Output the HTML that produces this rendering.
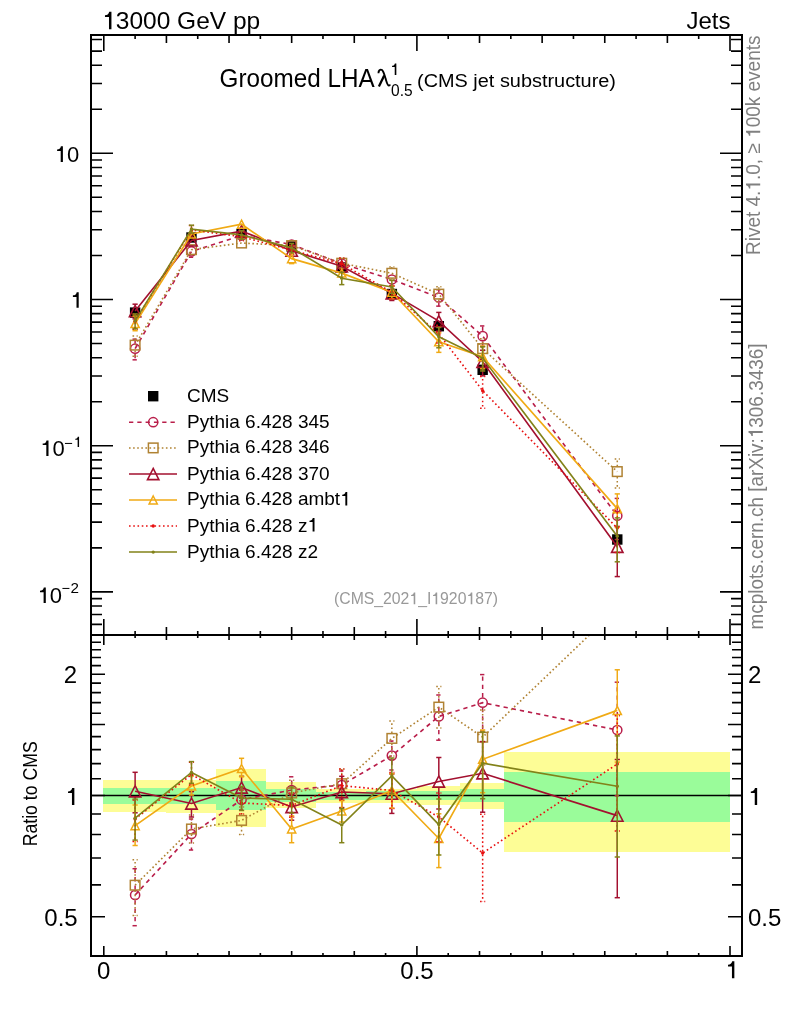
<!DOCTYPE html><html><head><meta charset="utf-8"><style>html,body{margin:0;padding:0;background:#fff;}svg{display:block;will-change:transform;}text{font-family:"Liberation Sans",sans-serif;}.h1{fill-opacity:0;}</style></head><body>
<svg width="786" height="1024" viewBox="0 0 786 1024">
<rect width="786" height="1024" fill="#fff"/>
<rect x="103" y="780" width="63" height="32" fill="#fdfd96" shape-rendering="crispEdges"/>
<rect x="103" y="788" width="63" height="16" fill="#9afc9a" shape-rendering="crispEdges"/>
<rect x="166" y="780" width="50" height="33" fill="#fdfd96" shape-rendering="crispEdges"/>
<rect x="166" y="788" width="50" height="16" fill="#9afc9a" shape-rendering="crispEdges"/>
<rect x="216" y="769" width="50" height="58" fill="#fdfd96" shape-rendering="crispEdges"/>
<rect x="216" y="781" width="50" height="29" fill="#9afc9a" shape-rendering="crispEdges"/>
<rect x="266" y="782" width="50" height="26" fill="#fdfd96" shape-rendering="crispEdges"/>
<rect x="266" y="789" width="50" height="13" fill="#9afc9a" shape-rendering="crispEdges"/>
<rect x="316" y="789" width="50" height="14" fill="#fdfd96" shape-rendering="crispEdges"/>
<rect x="316" y="792" width="50" height="8" fill="#9afc9a" shape-rendering="crispEdges"/>
<rect x="366" y="789" width="51" height="14" fill="#fdfd96" shape-rendering="crispEdges"/>
<rect x="366" y="791" width="51" height="9" fill="#9afc9a" shape-rendering="crispEdges"/>
<rect x="417" y="786" width="43" height="19" fill="#fdfd96" shape-rendering="crispEdges"/>
<rect x="417" y="791" width="43" height="9" fill="#9afc9a" shape-rendering="crispEdges"/>
<rect x="460" y="783" width="44" height="26" fill="#fdfd96" shape-rendering="crispEdges"/>
<rect x="460" y="789" width="44" height="13" fill="#9afc9a" shape-rendering="crispEdges"/>
<rect x="504" y="752" width="226" height="100" fill="#fdfd96" shape-rendering="crispEdges"/>
<rect x="504" y="772" width="226" height="50" fill="#9afc9a" shape-rendering="crispEdges"/>
<line x1="91" y1="795.5" x2="742" y2="795.5" stroke="#000" stroke-width="1.5"/>
<defs><clipPath id="cu"><rect x="91" y="35" width="651" height="600"/></clipPath><clipPath id="cl"><rect x="91" y="635" width="651" height="321"/></clipPath></defs>
<g clip-path="url(#cu)">
<rect x="129.91" y="307.4" width="10.4" height="10.4" fill="#000"/>
<rect x="186.27" y="232.3" width="10.4" height="10.4" fill="#000"/>
<rect x="236.36" y="228.8" width="10.4" height="10.4" fill="#000"/>
<rect x="286.46" y="241.3" width="10.4" height="10.4" fill="#000"/>
<rect x="336.56" y="262.3" width="10.4" height="10.4" fill="#000"/>
<rect x="386.65" y="288.8" width="10.4" height="10.4" fill="#000"/>
<rect x="433.62" y="321" width="10.4" height="10.4" fill="#000"/>
<rect x="477.45" y="364.6" width="10.4" height="10.4" fill="#000"/>
<rect x="612.08" y="534.3" width="10.4" height="10.4" fill="#000"/>
<polyline points="135.11,348.7 191.47,251.47 241.56,235.56 291.66,244.5 341.76,263.69 391.85,279.53 438.82,297.5 482.65,336.13 617.28,515.74" fill="none" stroke="#b91e4a" stroke-width="1.65" stroke-dasharray="4.3,4"/>
<line x1="135.11" y1="343.4" x2="135.11" y2="339.16" stroke="#b91e4a" stroke-width="1.5" stroke-dasharray="4.3,4"/><line x1="132.51" y1="339.16" x2="137.71" y2="339.16" stroke="#b91e4a" stroke-width="1.5" stroke-dasharray="4.3,4"/><line x1="135.11" y1="354" x2="135.11" y2="359.83" stroke="#b91e4a" stroke-width="1.5" stroke-dasharray="4.3,4"/><line x1="132.51" y1="359.83" x2="137.71" y2="359.83" stroke="#b91e4a" stroke-width="1.5" stroke-dasharray="4.3,4"/>
<line x1="191.47" y1="246.17" x2="191.47" y2="246.03" stroke="#b91e4a" stroke-width="1.5" stroke-dasharray="4.3,4"/><line x1="188.87" y1="246.03" x2="194.07" y2="246.03" stroke="#b91e4a" stroke-width="1.5" stroke-dasharray="4.3,4"/><line x1="191.47" y1="256.77" x2="191.47" y2="257.27" stroke="#b91e4a" stroke-width="1.5" stroke-dasharray="4.3,4"/><line x1="188.87" y1="257.27" x2="194.07" y2="257.27" stroke="#b91e4a" stroke-width="1.5" stroke-dasharray="4.3,4"/>




<line x1="438.82" y1="292.2" x2="438.82" y2="289.74" stroke="#b91e4a" stroke-width="1.5" stroke-dasharray="4.3,4"/><line x1="436.22" y1="289.74" x2="441.42" y2="289.74" stroke="#b91e4a" stroke-width="1.5" stroke-dasharray="4.3,4"/><line x1="438.82" y1="302.8" x2="438.82" y2="306.14" stroke="#b91e4a" stroke-width="1.5" stroke-dasharray="4.3,4"/><line x1="436.22" y1="306.14" x2="441.42" y2="306.14" stroke="#b91e4a" stroke-width="1.5" stroke-dasharray="4.3,4"/>
<line x1="482.65" y1="330.83" x2="482.65" y2="325.94" stroke="#b91e4a" stroke-width="1.5" stroke-dasharray="4.3,4"/><line x1="480.05" y1="325.94" x2="485.25" y2="325.94" stroke="#b91e4a" stroke-width="1.5" stroke-dasharray="4.3,4"/><line x1="482.65" y1="341.43" x2="482.65" y2="346.4" stroke="#b91e4a" stroke-width="1.5" stroke-dasharray="4.3,4"/><line x1="480.05" y1="346.4" x2="485.25" y2="346.4" stroke="#b91e4a" stroke-width="1.5" stroke-dasharray="4.3,4"/>
<line x1="617.28" y1="510.44" x2="617.28" y2="498.4" stroke="#b91e4a" stroke-width="1.5" stroke-dasharray="4.3,4"/><line x1="614.68" y1="498.4" x2="619.88" y2="498.4" stroke="#b91e4a" stroke-width="1.5" stroke-dasharray="4.3,4"/><line x1="617.28" y1="521.04" x2="617.28" y2="539.57" stroke="#b91e4a" stroke-width="1.5" stroke-dasharray="4.3,4"/><line x1="614.68" y1="539.57" x2="619.88" y2="539.57" stroke="#b91e4a" stroke-width="1.5" stroke-dasharray="4.3,4"/>
<circle cx="135.11" cy="348.7" r="4.6" fill="none" stroke="#b91e4a" stroke-width="1.5"/>
<circle cx="191.47" cy="251.47" r="4.6" fill="none" stroke="#b91e4a" stroke-width="1.5"/>
<circle cx="241.56" cy="235.56" r="4.6" fill="none" stroke="#b91e4a" stroke-width="1.5"/>
<circle cx="291.66" cy="244.5" r="4.6" fill="none" stroke="#b91e4a" stroke-width="1.5"/>
<circle cx="341.76" cy="263.69" r="4.6" fill="none" stroke="#b91e4a" stroke-width="1.5"/>
<circle cx="391.85" cy="279.53" r="4.6" fill="none" stroke="#b91e4a" stroke-width="1.5"/>
<circle cx="438.82" cy="297.5" r="4.6" fill="none" stroke="#b91e4a" stroke-width="1.5"/>
<circle cx="482.65" cy="336.13" r="4.6" fill="none" stroke="#b91e4a" stroke-width="1.5"/>
<circle cx="617.28" cy="515.74" r="4.6" fill="none" stroke="#b91e4a" stroke-width="1.5"/>
<polyline points="135.11,345.14 191.47,249.65 241.56,243.03 291.66,245.59 341.76,263.22 391.85,273.29 438.82,294.13 482.65,348.65 617.28,471.6" fill="none" stroke="#b08232" stroke-width="1.65" stroke-dasharray="1.6,2.5"/>
<line x1="135.11" y1="339.84" x2="135.11" y2="335.89" stroke="#b08232" stroke-width="1.5" stroke-dasharray="1.6,2.5"/><line x1="132.51" y1="335.89" x2="137.71" y2="335.89" stroke="#b08232" stroke-width="1.5" stroke-dasharray="1.6,2.5"/><line x1="135.11" y1="350.44" x2="135.11" y2="356.13" stroke="#b08232" stroke-width="1.5" stroke-dasharray="1.6,2.5"/><line x1="132.51" y1="356.13" x2="137.71" y2="356.13" stroke="#b08232" stroke-width="1.5" stroke-dasharray="1.6,2.5"/>



<line x1="341.76" y1="257.92" x2="341.76" y2="257.89" stroke="#b08232" stroke-width="1.5" stroke-dasharray="1.6,2.5"/><line x1="339.16" y1="257.89" x2="344.36" y2="257.89" stroke="#b08232" stroke-width="1.5" stroke-dasharray="1.6,2.5"/>
<line x1="391.85" y1="267.99" x2="391.85" y2="266.97" stroke="#b08232" stroke-width="1.5" stroke-dasharray="1.6,2.5"/><line x1="389.25" y1="266.97" x2="394.45" y2="266.97" stroke="#b08232" stroke-width="1.5" stroke-dasharray="1.6,2.5"/><line x1="391.85" y1="278.59" x2="391.85" y2="279.67" stroke="#b08232" stroke-width="1.5" stroke-dasharray="1.6,2.5"/><line x1="389.25" y1="279.67" x2="394.45" y2="279.67" stroke="#b08232" stroke-width="1.5" stroke-dasharray="1.6,2.5"/>
<line x1="438.82" y1="288.83" x2="438.82" y2="286.69" stroke="#b08232" stroke-width="1.5" stroke-dasharray="1.6,2.5"/><line x1="436.22" y1="286.69" x2="441.42" y2="286.69" stroke="#b08232" stroke-width="1.5" stroke-dasharray="1.6,2.5"/><line x1="438.82" y1="299.43" x2="438.82" y2="301.71" stroke="#b08232" stroke-width="1.5" stroke-dasharray="1.6,2.5"/><line x1="436.22" y1="301.71" x2="441.42" y2="301.71" stroke="#b08232" stroke-width="1.5" stroke-dasharray="1.6,2.5"/>
<line x1="482.65" y1="343.35" x2="482.65" y2="338.78" stroke="#b08232" stroke-width="1.5" stroke-dasharray="1.6,2.5"/><line x1="480.05" y1="338.78" x2="485.25" y2="338.78" stroke="#b08232" stroke-width="1.5" stroke-dasharray="1.6,2.5"/><line x1="482.65" y1="353.95" x2="482.65" y2="358.74" stroke="#b08232" stroke-width="1.5" stroke-dasharray="1.6,2.5"/><line x1="480.05" y1="358.74" x2="485.25" y2="358.74" stroke="#b08232" stroke-width="1.5" stroke-dasharray="1.6,2.5"/>
<line x1="617.28" y1="466.3" x2="617.28" y2="458.9" stroke="#b08232" stroke-width="1.5" stroke-dasharray="1.6,2.5"/><line x1="614.68" y1="458.9" x2="619.88" y2="458.9" stroke="#b08232" stroke-width="1.5" stroke-dasharray="1.6,2.5"/><line x1="617.28" y1="476.9" x2="617.28" y2="488.1" stroke="#b08232" stroke-width="1.5" stroke-dasharray="1.6,2.5"/><line x1="614.68" y1="488.1" x2="619.88" y2="488.1" stroke="#b08232" stroke-width="1.5" stroke-dasharray="1.6,2.5"/>
<rect x="130.31" y="340.34" width="9.6" height="9.6" fill="none" stroke="#b08232" stroke-width="1.5"/>
<rect x="186.67" y="244.85" width="9.6" height="9.6" fill="none" stroke="#b08232" stroke-width="1.5"/>
<rect x="236.76" y="238.23" width="9.6" height="9.6" fill="none" stroke="#b08232" stroke-width="1.5"/>
<rect x="286.86" y="240.79" width="9.6" height="9.6" fill="none" stroke="#b08232" stroke-width="1.5"/>
<rect x="336.96" y="258.42" width="9.6" height="9.6" fill="none" stroke="#b08232" stroke-width="1.5"/>
<rect x="387.05" y="268.49" width="9.6" height="9.6" fill="none" stroke="#b08232" stroke-width="1.5"/>
<rect x="434.02" y="289.33" width="9.6" height="9.6" fill="none" stroke="#b08232" stroke-width="1.5"/>
<rect x="477.85" y="343.85" width="9.6" height="9.6" fill="none" stroke="#b08232" stroke-width="1.5"/>
<rect x="612.48" y="466.8" width="9.6" height="9.6" fill="none" stroke="#b08232" stroke-width="1.5"/>
<polyline points="135.11,311.08 191.47,240.4 241.56,231.1 291.66,250.67 341.76,266.23 391.85,293.35 438.82,321.12 482.65,361.75 617.28,546.79" fill="none" stroke="#a3102f" stroke-width="1.65"/>
<line x1="135.11" y1="305.28" x2="135.11" y2="304.18" stroke="#a3102f" stroke-width="1.5"/><line x1="132.51" y1="304.18" x2="137.71" y2="304.18" stroke="#a3102f" stroke-width="1.5"/><line x1="135.11" y1="316.88" x2="135.11" y2="318.88" stroke="#a3102f" stroke-width="1.5"/><line x1="132.51" y1="318.88" x2="137.71" y2="318.88" stroke="#a3102f" stroke-width="1.5"/>




<line x1="391.85" y1="287.55" x2="391.85" y2="286.2" stroke="#a3102f" stroke-width="1.5"/><line x1="389.25" y1="286.2" x2="394.45" y2="286.2" stroke="#a3102f" stroke-width="1.5"/><line x1="391.85" y1="299.15" x2="391.85" y2="300.49" stroke="#a3102f" stroke-width="1.5"/><line x1="389.25" y1="300.49" x2="394.45" y2="300.49" stroke="#a3102f" stroke-width="1.5"/>
<line x1="438.82" y1="315.32" x2="438.82" y2="312.41" stroke="#a3102f" stroke-width="1.5"/><line x1="436.22" y1="312.41" x2="441.42" y2="312.41" stroke="#a3102f" stroke-width="1.5"/><line x1="438.82" y1="326.92" x2="438.82" y2="331.1" stroke="#a3102f" stroke-width="1.5"/><line x1="436.22" y1="331.1" x2="441.42" y2="331.1" stroke="#a3102f" stroke-width="1.5"/>
<line x1="482.65" y1="355.95" x2="482.65" y2="350.25" stroke="#a3102f" stroke-width="1.5"/><line x1="480.05" y1="350.25" x2="485.25" y2="350.25" stroke="#a3102f" stroke-width="1.5"/><line x1="482.65" y1="367.55" x2="482.65" y2="375.86" stroke="#a3102f" stroke-width="1.5"/><line x1="480.05" y1="375.86" x2="485.25" y2="375.86" stroke="#a3102f" stroke-width="1.5"/>
<line x1="617.28" y1="540.99" x2="617.28" y2="526.44" stroke="#a3102f" stroke-width="1.5"/><line x1="614.68" y1="526.44" x2="619.88" y2="526.44" stroke="#a3102f" stroke-width="1.5"/><line x1="617.28" y1="552.59" x2="617.28" y2="576.58" stroke="#a3102f" stroke-width="1.5"/><line x1="614.68" y1="576.58" x2="619.88" y2="576.58" stroke="#a3102f" stroke-width="1.5"/>
<path d="M135.11 305.48L140.81 316.68L129.41 316.68Z" fill="none" stroke="#a3102f" stroke-width="1.6"/>
<path d="M191.47 234.8L197.17 246L185.77 246Z" fill="none" stroke="#a3102f" stroke-width="1.6"/>
<path d="M241.56 225.5L247.26 236.7L235.86 236.7Z" fill="none" stroke="#a3102f" stroke-width="1.6"/>
<path d="M291.66 245.07L297.36 256.27L285.96 256.27Z" fill="none" stroke="#a3102f" stroke-width="1.6"/>
<path d="M341.76 260.63L347.46 271.83L336.06 271.83Z" fill="none" stroke="#a3102f" stroke-width="1.6"/>
<path d="M391.85 287.75L397.55 298.95L386.15 298.95Z" fill="none" stroke="#a3102f" stroke-width="1.6"/>
<path d="M438.82 315.52L444.52 326.72L433.12 326.72Z" fill="none" stroke="#a3102f" stroke-width="1.6"/>
<path d="M482.65 356.15L488.35 367.35L476.95 367.35Z" fill="none" stroke="#a3102f" stroke-width="1.6"/>
<path d="M617.28 541.19L622.98 552.39L611.58 552.39Z" fill="none" stroke="#a3102f" stroke-width="1.6"/>
<polyline points="135.11,323.56 191.47,234.05 241.56,224.2 291.66,258.65 341.76,273.12 391.85,292.19 438.82,341.8 482.65,356.67 617.28,508.63" fill="none" stroke="#f0aa14" stroke-width="1.65"/>
<line x1="135.11" y1="319.36" x2="135.11" y2="316.05" stroke="#f0aa14" stroke-width="1.5"/><line x1="132.51" y1="316.05" x2="137.71" y2="316.05" stroke="#f0aa14" stroke-width="1.5"/><line x1="135.11" y1="327.76" x2="135.11" y2="330.74" stroke="#f0aa14" stroke-width="1.5"/><line x1="132.51" y1="330.74" x2="137.71" y2="330.74" stroke="#f0aa14" stroke-width="1.5"/>


<line x1="291.66" y1="254.45" x2="291.66" y2="253.9" stroke="#f0aa14" stroke-width="1.5"/><line x1="289.06" y1="253.9" x2="294.26" y2="253.9" stroke="#f0aa14" stroke-width="1.5"/><line x1="291.66" y1="262.85" x2="291.66" y2="263.62" stroke="#f0aa14" stroke-width="1.5"/><line x1="289.06" y1="263.62" x2="294.26" y2="263.62" stroke="#f0aa14" stroke-width="1.5"/>

<line x1="391.85" y1="287.99" x2="391.85" y2="286.13" stroke="#f0aa14" stroke-width="1.5"/><line x1="389.25" y1="286.13" x2="394.45" y2="286.13" stroke="#f0aa14" stroke-width="1.5"/><line x1="391.85" y1="296.39" x2="391.85" y2="298.57" stroke="#f0aa14" stroke-width="1.5"/><line x1="389.25" y1="298.57" x2="394.45" y2="298.57" stroke="#f0aa14" stroke-width="1.5"/>
<line x1="438.82" y1="337.6" x2="438.82" y2="332.84" stroke="#f0aa14" stroke-width="1.5"/><line x1="436.22" y1="332.84" x2="441.42" y2="332.84" stroke="#f0aa14" stroke-width="1.5"/><line x1="438.82" y1="346" x2="438.82" y2="352.36" stroke="#f0aa14" stroke-width="1.5"/><line x1="436.22" y1="352.36" x2="441.42" y2="352.36" stroke="#f0aa14" stroke-width="1.5"/>
<line x1="482.65" y1="352.47" x2="482.65" y2="346.04" stroke="#f0aa14" stroke-width="1.5"/><line x1="480.05" y1="346.04" x2="485.25" y2="346.04" stroke="#f0aa14" stroke-width="1.5"/><line x1="482.65" y1="360.87" x2="482.65" y2="368.78" stroke="#f0aa14" stroke-width="1.5"/><line x1="480.05" y1="368.78" x2="485.25" y2="368.78" stroke="#f0aa14" stroke-width="1.5"/>
<line x1="617.28" y1="504.43" x2="617.28" y2="493.9" stroke="#f0aa14" stroke-width="1.5"/><line x1="614.68" y1="493.9" x2="619.88" y2="493.9" stroke="#f0aa14" stroke-width="1.5"/><line x1="617.28" y1="512.83" x2="617.28" y2="527.38" stroke="#f0aa14" stroke-width="1.5"/><line x1="614.68" y1="527.38" x2="619.88" y2="527.38" stroke="#f0aa14" stroke-width="1.5"/>
<path d="M135.11 319.56L139.21 327.56L131.01 327.56Z" fill="none" stroke="#f0aa14" stroke-width="1.5"/>
<path d="M191.47 230.05L195.57 238.05L187.37 238.05Z" fill="none" stroke="#f0aa14" stroke-width="1.5"/>
<path d="M241.56 220.2L245.66 228.2L237.46 228.2Z" fill="none" stroke="#f0aa14" stroke-width="1.5"/>
<path d="M291.66 254.65L295.76 262.65L287.56 262.65Z" fill="none" stroke="#f0aa14" stroke-width="1.5"/>
<path d="M341.76 269.12L345.86 277.12L337.66 277.12Z" fill="none" stroke="#f0aa14" stroke-width="1.5"/>
<path d="M391.85 288.19L395.95 296.19L387.75 296.19Z" fill="none" stroke="#f0aa14" stroke-width="1.5"/>
<path d="M438.82 337.8L442.92 345.8L434.72 345.8Z" fill="none" stroke="#f0aa14" stroke-width="1.5"/>
<path d="M482.65 352.67L486.75 360.67L478.55 360.67Z" fill="none" stroke="#f0aa14" stroke-width="1.5"/>
<path d="M617.28 504.63L621.38 512.63L613.18 512.63Z" fill="none" stroke="#f0aa14" stroke-width="1.5"/>
<polyline points="135.11,321.13 191.47,229.88 241.56,236.72 291.66,250.13 341.76,263.91 391.85,292.19 438.82,334 482.65,390.66 617.28,528.07" fill="none" stroke="#e81010" stroke-width="1.65" stroke-dasharray="1.6,2.65"/>
<line x1="135.11" y1="319.53" x2="135.11" y2="314.23" stroke="#e81010" stroke-width="1.5" stroke-dasharray="1.6,2.65"/><line x1="132.51" y1="314.23" x2="137.71" y2="314.23" stroke="#e81010" stroke-width="1.5" stroke-dasharray="1.6,2.65"/><line x1="135.11" y1="322.73" x2="135.11" y2="329.32" stroke="#e81010" stroke-width="1.5" stroke-dasharray="1.6,2.65"/><line x1="132.51" y1="329.32" x2="137.71" y2="329.32" stroke="#e81010" stroke-width="1.5" stroke-dasharray="1.6,2.65"/>
<line x1="191.47" y1="228.28" x2="191.47" y2="225.46" stroke="#e81010" stroke-width="1.5" stroke-dasharray="1.6,2.65"/><line x1="188.87" y1="225.46" x2="194.07" y2="225.46" stroke="#e81010" stroke-width="1.5" stroke-dasharray="1.6,2.65"/><line x1="191.47" y1="231.48" x2="191.47" y2="233.69" stroke="#e81010" stroke-width="1.5" stroke-dasharray="1.6,2.65"/><line x1="188.87" y1="233.69" x2="194.07" y2="233.69" stroke="#e81010" stroke-width="1.5" stroke-dasharray="1.6,2.65"/>
<line x1="241.56" y1="235.12" x2="241.56" y2="232" stroke="#e81010" stroke-width="1.5" stroke-dasharray="1.6,2.65"/><line x1="238.96" y1="232" x2="244.16" y2="232" stroke="#e81010" stroke-width="1.5" stroke-dasharray="1.6,2.65"/><line x1="241.56" y1="238.32" x2="241.56" y2="240.68" stroke="#e81010" stroke-width="1.5" stroke-dasharray="1.6,2.65"/><line x1="238.96" y1="240.68" x2="244.16" y2="240.68" stroke="#e81010" stroke-width="1.5" stroke-dasharray="1.6,2.65"/>
<line x1="291.66" y1="248.53" x2="291.66" y2="245.59" stroke="#e81010" stroke-width="1.5" stroke-dasharray="1.6,2.65"/><line x1="289.06" y1="245.59" x2="294.26" y2="245.59" stroke="#e81010" stroke-width="1.5" stroke-dasharray="1.6,2.65"/><line x1="291.66" y1="251.73" x2="291.66" y2="254.41" stroke="#e81010" stroke-width="1.5" stroke-dasharray="1.6,2.65"/><line x1="289.06" y1="254.41" x2="294.26" y2="254.41" stroke="#e81010" stroke-width="1.5" stroke-dasharray="1.6,2.65"/>
<line x1="341.76" y1="262.31" x2="341.76" y2="257.89" stroke="#e81010" stroke-width="1.5" stroke-dasharray="1.6,2.65"/><line x1="339.16" y1="257.89" x2="344.36" y2="257.89" stroke="#e81010" stroke-width="1.5" stroke-dasharray="1.6,2.65"/><line x1="341.76" y1="265.51" x2="341.76" y2="269.13" stroke="#e81010" stroke-width="1.5" stroke-dasharray="1.6,2.65"/><line x1="339.16" y1="269.13" x2="344.36" y2="269.13" stroke="#e81010" stroke-width="1.5" stroke-dasharray="1.6,2.65"/>
<line x1="391.85" y1="290.59" x2="391.85" y2="285.66" stroke="#e81010" stroke-width="1.5" stroke-dasharray="1.6,2.65"/><line x1="389.25" y1="285.66" x2="394.45" y2="285.66" stroke="#e81010" stroke-width="1.5" stroke-dasharray="1.6,2.65"/><line x1="391.85" y1="293.79" x2="391.85" y2="298.72" stroke="#e81010" stroke-width="1.5" stroke-dasharray="1.6,2.65"/><line x1="389.25" y1="298.72" x2="394.45" y2="298.72" stroke="#e81010" stroke-width="1.5" stroke-dasharray="1.6,2.65"/>
<line x1="438.82" y1="332.4" x2="438.82" y2="325.29" stroke="#e81010" stroke-width="1.5" stroke-dasharray="1.6,2.65"/><line x1="436.22" y1="325.29" x2="441.42" y2="325.29" stroke="#e81010" stroke-width="1.5" stroke-dasharray="1.6,2.65"/><line x1="438.82" y1="335.6" x2="438.82" y2="342.96" stroke="#e81010" stroke-width="1.5" stroke-dasharray="1.6,2.65"/><line x1="436.22" y1="342.96" x2="441.42" y2="342.96" stroke="#e81010" stroke-width="1.5" stroke-dasharray="1.6,2.65"/>
<line x1="482.65" y1="389.06" x2="482.65" y2="376.62" stroke="#e81010" stroke-width="1.5" stroke-dasharray="1.6,2.65"/><line x1="480.05" y1="376.62" x2="485.25" y2="376.62" stroke="#e81010" stroke-width="1.5" stroke-dasharray="1.6,2.65"/><line x1="482.65" y1="392.26" x2="482.65" y2="408.25" stroke="#e81010" stroke-width="1.5" stroke-dasharray="1.6,2.65"/><line x1="480.05" y1="408.25" x2="485.25" y2="408.25" stroke="#e81010" stroke-width="1.5" stroke-dasharray="1.6,2.65"/>
<line x1="617.28" y1="526.47" x2="617.28" y2="510.59" stroke="#e81010" stroke-width="1.5" stroke-dasharray="1.6,2.65"/><line x1="614.68" y1="510.59" x2="619.88" y2="510.59" stroke="#e81010" stroke-width="1.5" stroke-dasharray="1.6,2.65"/><line x1="617.28" y1="529.67" x2="617.28" y2="552.38" stroke="#e81010" stroke-width="1.5" stroke-dasharray="1.6,2.65"/><line x1="614.68" y1="552.38" x2="619.88" y2="552.38" stroke="#e81010" stroke-width="1.5" stroke-dasharray="1.6,2.65"/>
<circle cx="135.11" cy="321.13" r="1.7" fill="#e81010"/>
<circle cx="191.47" cy="229.88" r="1.7" fill="#e81010"/>
<circle cx="241.56" cy="236.72" r="1.7" fill="#e81010"/>
<circle cx="291.66" cy="250.13" r="1.7" fill="#e81010"/>
<circle cx="341.76" cy="263.91" r="1.7" fill="#e81010"/>
<circle cx="391.85" cy="292.19" r="1.7" fill="#e81010"/>
<circle cx="438.82" cy="334" r="1.7" fill="#e81010"/>
<circle cx="482.65" cy="390.66" r="1.7" fill="#e81010"/>
<circle cx="617.28" cy="528.07" r="1.7" fill="#e81010"/>
<polyline points="135.11,320.84 191.47,229.12 241.56,234.91 291.66,247.88 341.76,278.24 391.85,286.93 438.82,336.76 482.65,358.08 617.28,536.16" fill="none" stroke="#828219" stroke-width="1.65"/>
<line x1="135.11" y1="319.24" x2="135.11" y2="313.91" stroke="#828219" stroke-width="1.5"/><line x1="132.51" y1="313.91" x2="137.71" y2="313.91" stroke="#828219" stroke-width="1.5"/><line x1="135.11" y1="322.44" x2="135.11" y2="328.78" stroke="#828219" stroke-width="1.5"/><line x1="132.51" y1="328.78" x2="137.71" y2="328.78" stroke="#828219" stroke-width="1.5"/>
<line x1="191.47" y1="227.52" x2="191.47" y2="225.2" stroke="#828219" stroke-width="1.5"/><line x1="188.87" y1="225.2" x2="194.07" y2="225.2" stroke="#828219" stroke-width="1.5"/><line x1="191.47" y1="230.72" x2="191.47" y2="233.07" stroke="#828219" stroke-width="1.5"/><line x1="188.87" y1="233.07" x2="194.07" y2="233.07" stroke="#828219" stroke-width="1.5"/>
<line x1="241.56" y1="233.31" x2="241.56" y2="230.77" stroke="#828219" stroke-width="1.5"/><line x1="238.96" y1="230.77" x2="244.16" y2="230.77" stroke="#828219" stroke-width="1.5"/><line x1="241.56" y1="236.51" x2="241.56" y2="239.44" stroke="#828219" stroke-width="1.5"/><line x1="238.96" y1="239.44" x2="244.16" y2="239.44" stroke="#828219" stroke-width="1.5"/>
<line x1="291.66" y1="246.28" x2="291.66" y2="243.42" stroke="#828219" stroke-width="1.5"/><line x1="289.06" y1="243.42" x2="294.26" y2="243.42" stroke="#828219" stroke-width="1.5"/><line x1="291.66" y1="249.48" x2="291.66" y2="252.85" stroke="#828219" stroke-width="1.5"/><line x1="289.06" y1="252.85" x2="294.26" y2="252.85" stroke="#828219" stroke-width="1.5"/>
<line x1="341.76" y1="276.64" x2="341.76" y2="272.22" stroke="#828219" stroke-width="1.5"/><line x1="339.16" y1="272.22" x2="344.36" y2="272.22" stroke="#828219" stroke-width="1.5"/><line x1="341.76" y1="279.84" x2="341.76" y2="284.62" stroke="#828219" stroke-width="1.5"/><line x1="339.16" y1="284.62" x2="344.36" y2="284.62" stroke="#828219" stroke-width="1.5"/>
<line x1="391.85" y1="285.33" x2="391.85" y2="280.4" stroke="#828219" stroke-width="1.5"/><line x1="389.25" y1="280.4" x2="394.45" y2="280.4" stroke="#828219" stroke-width="1.5"/><line x1="391.85" y1="288.53" x2="391.85" y2="293.46" stroke="#828219" stroke-width="1.5"/><line x1="389.25" y1="293.46" x2="394.45" y2="293.46" stroke="#828219" stroke-width="1.5"/>
<line x1="438.82" y1="335.16" x2="438.82" y2="327.47" stroke="#828219" stroke-width="1.5"/><line x1="436.22" y1="327.47" x2="441.42" y2="327.47" stroke="#828219" stroke-width="1.5"/><line x1="438.82" y1="338.36" x2="438.82" y2="347.79" stroke="#828219" stroke-width="1.5"/><line x1="436.22" y1="347.79" x2="441.42" y2="347.79" stroke="#828219" stroke-width="1.5"/>
<line x1="482.65" y1="356.48" x2="482.65" y2="346.76" stroke="#828219" stroke-width="1.5"/><line x1="480.05" y1="346.76" x2="485.25" y2="346.76" stroke="#828219" stroke-width="1.5"/><line x1="482.65" y1="359.68" x2="482.65" y2="370.96" stroke="#828219" stroke-width="1.5"/><line x1="480.05" y1="370.96" x2="485.25" y2="370.96" stroke="#828219" stroke-width="1.5"/>
<line x1="617.28" y1="534.56" x2="617.28" y2="517.88" stroke="#828219" stroke-width="1.5"/><line x1="614.68" y1="517.88" x2="619.88" y2="517.88" stroke="#828219" stroke-width="1.5"/><line x1="617.28" y1="537.76" x2="617.28" y2="561.81" stroke="#828219" stroke-width="1.5"/><line x1="614.68" y1="561.81" x2="619.88" y2="561.81" stroke="#828219" stroke-width="1.5"/>
<circle cx="135.11" cy="320.84" r="1.7" fill="#828219"/>
<circle cx="191.47" cy="229.12" r="1.7" fill="#828219"/>
<circle cx="241.56" cy="234.91" r="1.7" fill="#828219"/>
<circle cx="291.66" cy="247.88" r="1.7" fill="#828219"/>
<circle cx="341.76" cy="278.24" r="1.7" fill="#828219"/>
<circle cx="391.85" cy="286.93" r="1.7" fill="#828219"/>
<circle cx="438.82" cy="336.76" r="1.7" fill="#828219"/>
<circle cx="482.65" cy="358.08" r="1.7" fill="#828219"/>
<circle cx="617.28" cy="536.16" r="1.7" fill="#828219"/>
</g>
<g clip-path="url(#cl)">
<polyline points="135.11,895 191.47,834 241.56,799.8 291.66,790 341.76,785 391.85,755.6 438.82,716.4 482.65,702.7 617.28,730" fill="none" stroke="#b91e4a" stroke-width="1.65" stroke-dasharray="4.3,4"/>
<line x1="135.11" y1="889.7" x2="135.11" y2="868.7" stroke="#b91e4a" stroke-width="1.5" stroke-dasharray="4.3,4"/><line x1="132.51" y1="868.7" x2="137.71" y2="868.7" stroke="#b91e4a" stroke-width="1.5" stroke-dasharray="4.3,4"/><line x1="135.11" y1="900.3" x2="135.11" y2="925.7" stroke="#b91e4a" stroke-width="1.5" stroke-dasharray="4.3,4"/><line x1="132.51" y1="925.7" x2="137.71" y2="925.7" stroke="#b91e4a" stroke-width="1.5" stroke-dasharray="4.3,4"/>
<line x1="191.47" y1="828.7" x2="191.47" y2="819" stroke="#b91e4a" stroke-width="1.5" stroke-dasharray="4.3,4"/><line x1="188.87" y1="819" x2="194.07" y2="819" stroke="#b91e4a" stroke-width="1.5" stroke-dasharray="4.3,4"/><line x1="191.47" y1="839.3" x2="191.47" y2="850" stroke="#b91e4a" stroke-width="1.5" stroke-dasharray="4.3,4"/><line x1="188.87" y1="850" x2="194.07" y2="850" stroke="#b91e4a" stroke-width="1.5" stroke-dasharray="4.3,4"/>
<line x1="241.56" y1="794.5" x2="241.56" y2="790" stroke="#b91e4a" stroke-width="1.5" stroke-dasharray="4.3,4"/><line x1="238.96" y1="790" x2="244.16" y2="790" stroke="#b91e4a" stroke-width="1.5" stroke-dasharray="4.3,4"/><line x1="241.56" y1="805.1" x2="241.56" y2="810" stroke="#b91e4a" stroke-width="1.5" stroke-dasharray="4.3,4"/><line x1="238.96" y1="810" x2="244.16" y2="810" stroke="#b91e4a" stroke-width="1.5" stroke-dasharray="4.3,4"/>
<line x1="291.66" y1="784.7" x2="291.66" y2="776.8" stroke="#b91e4a" stroke-width="1.5" stroke-dasharray="4.3,4"/><line x1="289.06" y1="776.8" x2="294.26" y2="776.8" stroke="#b91e4a" stroke-width="1.5" stroke-dasharray="4.3,4"/><line x1="291.66" y1="795.3" x2="291.66" y2="803" stroke="#b91e4a" stroke-width="1.5" stroke-dasharray="4.3,4"/><line x1="289.06" y1="803" x2="294.26" y2="803" stroke="#b91e4a" stroke-width="1.5" stroke-dasharray="4.3,4"/>
<line x1="341.76" y1="779.7" x2="341.76" y2="771" stroke="#b91e4a" stroke-width="1.5" stroke-dasharray="4.3,4"/><line x1="339.16" y1="771" x2="344.36" y2="771" stroke="#b91e4a" stroke-width="1.5" stroke-dasharray="4.3,4"/><line x1="341.76" y1="790.3" x2="341.76" y2="799" stroke="#b91e4a" stroke-width="1.5" stroke-dasharray="4.3,4"/><line x1="339.16" y1="799" x2="344.36" y2="799" stroke="#b91e4a" stroke-width="1.5" stroke-dasharray="4.3,4"/>
<line x1="391.85" y1="750.3" x2="391.85" y2="741" stroke="#b91e4a" stroke-width="1.5" stroke-dasharray="4.3,4"/><line x1="389.25" y1="741" x2="394.45" y2="741" stroke="#b91e4a" stroke-width="1.5" stroke-dasharray="4.3,4"/><line x1="391.85" y1="760.9" x2="391.85" y2="770" stroke="#b91e4a" stroke-width="1.5" stroke-dasharray="4.3,4"/><line x1="389.25" y1="770" x2="394.45" y2="770" stroke="#b91e4a" stroke-width="1.5" stroke-dasharray="4.3,4"/>
<line x1="438.82" y1="711.1" x2="438.82" y2="695" stroke="#b91e4a" stroke-width="1.5" stroke-dasharray="4.3,4"/><line x1="436.22" y1="695" x2="441.42" y2="695" stroke="#b91e4a" stroke-width="1.5" stroke-dasharray="4.3,4"/><line x1="438.82" y1="721.7" x2="438.82" y2="740.2" stroke="#b91e4a" stroke-width="1.5" stroke-dasharray="4.3,4"/><line x1="436.22" y1="740.2" x2="441.42" y2="740.2" stroke="#b91e4a" stroke-width="1.5" stroke-dasharray="4.3,4"/>
<line x1="482.65" y1="697.4" x2="482.65" y2="674.6" stroke="#b91e4a" stroke-width="1.5" stroke-dasharray="4.3,4"/><line x1="480.05" y1="674.6" x2="485.25" y2="674.6" stroke="#b91e4a" stroke-width="1.5" stroke-dasharray="4.3,4"/><line x1="482.65" y1="708" x2="482.65" y2="731" stroke="#b91e4a" stroke-width="1.5" stroke-dasharray="4.3,4"/><line x1="480.05" y1="731" x2="485.25" y2="731" stroke="#b91e4a" stroke-width="1.5" stroke-dasharray="4.3,4"/>
<line x1="617.28" y1="724.7" x2="617.28" y2="682.2" stroke="#b91e4a" stroke-width="1.5" stroke-dasharray="4.3,4"/><line x1="614.68" y1="682.2" x2="619.88" y2="682.2" stroke="#b91e4a" stroke-width="1.5" stroke-dasharray="4.3,4"/><line x1="617.28" y1="735.3" x2="617.28" y2="795.7" stroke="#b91e4a" stroke-width="1.5" stroke-dasharray="4.3,4"/><line x1="614.68" y1="795.7" x2="619.88" y2="795.7" stroke="#b91e4a" stroke-width="1.5" stroke-dasharray="4.3,4"/>
<circle cx="135.11" cy="895" r="4.6" fill="none" stroke="#b91e4a" stroke-width="1.5"/>
<circle cx="191.47" cy="834" r="4.6" fill="none" stroke="#b91e4a" stroke-width="1.5"/>
<circle cx="241.56" cy="799.8" r="4.6" fill="none" stroke="#b91e4a" stroke-width="1.5"/>
<circle cx="291.66" cy="790" r="4.6" fill="none" stroke="#b91e4a" stroke-width="1.5"/>
<circle cx="341.76" cy="785" r="4.6" fill="none" stroke="#b91e4a" stroke-width="1.5"/>
<circle cx="391.85" cy="755.6" r="4.6" fill="none" stroke="#b91e4a" stroke-width="1.5"/>
<circle cx="438.82" cy="716.4" r="4.6" fill="none" stroke="#b91e4a" stroke-width="1.5"/>
<circle cx="482.65" cy="702.7" r="4.6" fill="none" stroke="#b91e4a" stroke-width="1.5"/>
<circle cx="617.28" cy="730" r="4.6" fill="none" stroke="#b91e4a" stroke-width="1.5"/>
<polyline points="135.11,885.2 191.47,829 241.56,820.4 291.66,793 341.76,783.7 391.85,738.4 438.82,707.1 482.65,737.2 617.28,608.33" fill="none" stroke="#b08232" stroke-width="1.65" stroke-dasharray="1.6,2.5"/>
<line x1="135.11" y1="879.9" x2="135.11" y2="859.7" stroke="#b08232" stroke-width="1.5" stroke-dasharray="1.6,2.5"/><line x1="132.51" y1="859.7" x2="137.71" y2="859.7" stroke="#b08232" stroke-width="1.5" stroke-dasharray="1.6,2.5"/><line x1="135.11" y1="890.5" x2="135.11" y2="915.5" stroke="#b08232" stroke-width="1.5" stroke-dasharray="1.6,2.5"/><line x1="132.51" y1="915.5" x2="137.71" y2="915.5" stroke="#b08232" stroke-width="1.5" stroke-dasharray="1.6,2.5"/>
<line x1="191.47" y1="823.7" x2="191.47" y2="815" stroke="#b08232" stroke-width="1.5" stroke-dasharray="1.6,2.5"/><line x1="188.87" y1="815" x2="194.07" y2="815" stroke="#b08232" stroke-width="1.5" stroke-dasharray="1.6,2.5"/><line x1="191.47" y1="834.3" x2="191.47" y2="843" stroke="#b08232" stroke-width="1.5" stroke-dasharray="1.6,2.5"/><line x1="188.87" y1="843" x2="194.07" y2="843" stroke="#b08232" stroke-width="1.5" stroke-dasharray="1.6,2.5"/>
<line x1="241.56" y1="815.1" x2="241.56" y2="807" stroke="#b08232" stroke-width="1.5" stroke-dasharray="1.6,2.5"/><line x1="238.96" y1="807" x2="244.16" y2="807" stroke="#b08232" stroke-width="1.5" stroke-dasharray="1.6,2.5"/><line x1="241.56" y1="825.7" x2="241.56" y2="834.4" stroke="#b08232" stroke-width="1.5" stroke-dasharray="1.6,2.5"/><line x1="238.96" y1="834.4" x2="244.16" y2="834.4" stroke="#b08232" stroke-width="1.5" stroke-dasharray="1.6,2.5"/>
<line x1="291.66" y1="787.7" x2="291.66" y2="780.2" stroke="#b08232" stroke-width="1.5" stroke-dasharray="1.6,2.5"/><line x1="289.06" y1="780.2" x2="294.26" y2="780.2" stroke="#b08232" stroke-width="1.5" stroke-dasharray="1.6,2.5"/><line x1="291.66" y1="798.3" x2="291.66" y2="806" stroke="#b08232" stroke-width="1.5" stroke-dasharray="1.6,2.5"/><line x1="289.06" y1="806" x2="294.26" y2="806" stroke="#b08232" stroke-width="1.5" stroke-dasharray="1.6,2.5"/>
<line x1="341.76" y1="778.4" x2="341.76" y2="769" stroke="#b08232" stroke-width="1.5" stroke-dasharray="1.6,2.5"/><line x1="339.16" y1="769" x2="344.36" y2="769" stroke="#b08232" stroke-width="1.5" stroke-dasharray="1.6,2.5"/><line x1="341.76" y1="789" x2="341.76" y2="797" stroke="#b08232" stroke-width="1.5" stroke-dasharray="1.6,2.5"/><line x1="339.16" y1="797" x2="344.36" y2="797" stroke="#b08232" stroke-width="1.5" stroke-dasharray="1.6,2.5"/>
<line x1="391.85" y1="733.1" x2="391.85" y2="721" stroke="#b08232" stroke-width="1.5" stroke-dasharray="1.6,2.5"/><line x1="389.25" y1="721" x2="394.45" y2="721" stroke="#b08232" stroke-width="1.5" stroke-dasharray="1.6,2.5"/><line x1="391.85" y1="743.7" x2="391.85" y2="756" stroke="#b08232" stroke-width="1.5" stroke-dasharray="1.6,2.5"/><line x1="389.25" y1="756" x2="394.45" y2="756" stroke="#b08232" stroke-width="1.5" stroke-dasharray="1.6,2.5"/>
<line x1="438.82" y1="701.8" x2="438.82" y2="686.6" stroke="#b08232" stroke-width="1.5" stroke-dasharray="1.6,2.5"/><line x1="436.22" y1="686.6" x2="441.42" y2="686.6" stroke="#b08232" stroke-width="1.5" stroke-dasharray="1.6,2.5"/><line x1="438.82" y1="712.4" x2="438.82" y2="728" stroke="#b08232" stroke-width="1.5" stroke-dasharray="1.6,2.5"/><line x1="436.22" y1="728" x2="441.42" y2="728" stroke="#b08232" stroke-width="1.5" stroke-dasharray="1.6,2.5"/>
<line x1="482.65" y1="731.9" x2="482.65" y2="710" stroke="#b08232" stroke-width="1.5" stroke-dasharray="1.6,2.5"/><line x1="480.05" y1="710" x2="485.25" y2="710" stroke="#b08232" stroke-width="1.5" stroke-dasharray="1.6,2.5"/><line x1="482.65" y1="742.5" x2="482.65" y2="765" stroke="#b08232" stroke-width="1.5" stroke-dasharray="1.6,2.5"/><line x1="480.05" y1="765" x2="485.25" y2="765" stroke="#b08232" stroke-width="1.5" stroke-dasharray="1.6,2.5"/>
<rect x="130.31" y="880.4" width="9.6" height="9.6" fill="none" stroke="#b08232" stroke-width="1.5"/>
<rect x="186.67" y="824.2" width="9.6" height="9.6" fill="none" stroke="#b08232" stroke-width="1.5"/>
<rect x="236.76" y="815.6" width="9.6" height="9.6" fill="none" stroke="#b08232" stroke-width="1.5"/>
<rect x="286.86" y="788.2" width="9.6" height="9.6" fill="none" stroke="#b08232" stroke-width="1.5"/>
<rect x="336.96" y="778.9" width="9.6" height="9.6" fill="none" stroke="#b08232" stroke-width="1.5"/>
<rect x="387.05" y="733.6" width="9.6" height="9.6" fill="none" stroke="#b08232" stroke-width="1.5"/>
<rect x="434.02" y="702.3" width="9.6" height="9.6" fill="none" stroke="#b08232" stroke-width="1.5"/>
<rect x="477.85" y="732.4" width="9.6" height="9.6" fill="none" stroke="#b08232" stroke-width="1.5"/>
<rect x="612.48" y="603.53" width="9.6" height="9.6" fill="none" stroke="#b08232" stroke-width="1.5"/>
<polyline points="135.11,791.3 191.47,803.5 241.56,787.5 291.66,807 341.76,792 391.85,793.7 438.82,781.5 482.65,773.3 617.28,815.6" fill="none" stroke="#a3102f" stroke-width="1.65"/>
<line x1="135.11" y1="785.5" x2="135.11" y2="772.3" stroke="#a3102f" stroke-width="1.5"/><line x1="132.51" y1="772.3" x2="137.71" y2="772.3" stroke="#a3102f" stroke-width="1.5"/><line x1="135.11" y1="797.1" x2="135.11" y2="812.8" stroke="#a3102f" stroke-width="1.5"/><line x1="132.51" y1="812.8" x2="137.71" y2="812.8" stroke="#a3102f" stroke-width="1.5"/>
<line x1="191.47" y1="797.7" x2="191.47" y2="791.6" stroke="#a3102f" stroke-width="1.5"/><line x1="188.87" y1="791.6" x2="194.07" y2="791.6" stroke="#a3102f" stroke-width="1.5"/><line x1="191.47" y1="809.3" x2="191.47" y2="817" stroke="#a3102f" stroke-width="1.5"/><line x1="188.87" y1="817" x2="194.07" y2="817" stroke="#a3102f" stroke-width="1.5"/>
<line x1="241.56" y1="781.7" x2="241.56" y2="776.3" stroke="#a3102f" stroke-width="1.5"/><line x1="238.96" y1="776.3" x2="244.16" y2="776.3" stroke="#a3102f" stroke-width="1.5"/><line x1="241.56" y1="793.3" x2="241.56" y2="798" stroke="#a3102f" stroke-width="1.5"/><line x1="238.96" y1="798" x2="244.16" y2="798" stroke="#a3102f" stroke-width="1.5"/>
<line x1="291.66" y1="801.2" x2="291.66" y2="795" stroke="#a3102f" stroke-width="1.5"/><line x1="289.06" y1="795" x2="294.26" y2="795" stroke="#a3102f" stroke-width="1.5"/><line x1="291.66" y1="812.8" x2="291.66" y2="820.2" stroke="#a3102f" stroke-width="1.5"/><line x1="289.06" y1="820.2" x2="294.26" y2="820.2" stroke="#a3102f" stroke-width="1.5"/>
<line x1="341.76" y1="786.2" x2="341.76" y2="776.3" stroke="#a3102f" stroke-width="1.5"/><line x1="339.16" y1="776.3" x2="344.36" y2="776.3" stroke="#a3102f" stroke-width="1.5"/><line x1="341.76" y1="797.8" x2="341.76" y2="807.6" stroke="#a3102f" stroke-width="1.5"/><line x1="339.16" y1="807.6" x2="344.36" y2="807.6" stroke="#a3102f" stroke-width="1.5"/>
<line x1="391.85" y1="787.9" x2="391.85" y2="774" stroke="#a3102f" stroke-width="1.5"/><line x1="389.25" y1="774" x2="394.45" y2="774" stroke="#a3102f" stroke-width="1.5"/><line x1="391.85" y1="799.5" x2="391.85" y2="813.4" stroke="#a3102f" stroke-width="1.5"/><line x1="389.25" y1="813.4" x2="394.45" y2="813.4" stroke="#a3102f" stroke-width="1.5"/>
<line x1="438.82" y1="775.7" x2="438.82" y2="757.5" stroke="#a3102f" stroke-width="1.5"/><line x1="436.22" y1="757.5" x2="441.42" y2="757.5" stroke="#a3102f" stroke-width="1.5"/><line x1="438.82" y1="787.3" x2="438.82" y2="809" stroke="#a3102f" stroke-width="1.5"/><line x1="436.22" y1="809" x2="441.42" y2="809" stroke="#a3102f" stroke-width="1.5"/>
<line x1="482.65" y1="767.5" x2="482.65" y2="741.6" stroke="#a3102f" stroke-width="1.5"/><line x1="480.05" y1="741.6" x2="485.25" y2="741.6" stroke="#a3102f" stroke-width="1.5"/><line x1="482.65" y1="779.1" x2="482.65" y2="812.2" stroke="#a3102f" stroke-width="1.5"/><line x1="480.05" y1="812.2" x2="485.25" y2="812.2" stroke="#a3102f" stroke-width="1.5"/>
<line x1="617.28" y1="809.8" x2="617.28" y2="759.5" stroke="#a3102f" stroke-width="1.5"/><line x1="614.68" y1="759.5" x2="619.88" y2="759.5" stroke="#a3102f" stroke-width="1.5"/><line x1="617.28" y1="821.4" x2="617.28" y2="897.7" stroke="#a3102f" stroke-width="1.5"/><line x1="614.68" y1="897.7" x2="619.88" y2="897.7" stroke="#a3102f" stroke-width="1.5"/>
<path d="M135.11 785.7L140.81 796.9L129.41 796.9Z" fill="none" stroke="#a3102f" stroke-width="1.6"/>
<path d="M191.47 797.9L197.17 809.1L185.77 809.1Z" fill="none" stroke="#a3102f" stroke-width="1.6"/>
<path d="M241.56 781.9L247.26 793.1L235.86 793.1Z" fill="none" stroke="#a3102f" stroke-width="1.6"/>
<path d="M291.66 801.4L297.36 812.6L285.96 812.6Z" fill="none" stroke="#a3102f" stroke-width="1.6"/>
<path d="M341.76 786.4L347.46 797.6L336.06 797.6Z" fill="none" stroke="#a3102f" stroke-width="1.6"/>
<path d="M391.85 788.1L397.55 799.3L386.15 799.3Z" fill="none" stroke="#a3102f" stroke-width="1.6"/>
<path d="M438.82 775.9L444.52 787.1L433.12 787.1Z" fill="none" stroke="#a3102f" stroke-width="1.6"/>
<path d="M482.65 767.7L488.35 778.9L476.95 778.9Z" fill="none" stroke="#a3102f" stroke-width="1.6"/>
<path d="M617.28 810L622.98 821.2L611.58 821.2Z" fill="none" stroke="#a3102f" stroke-width="1.6"/>
<polyline points="135.11,825.7 191.47,786 241.56,768.5 291.66,829 341.76,811 391.85,790.5 438.82,838.5 482.65,759.3 617.28,710.4" fill="none" stroke="#f0aa14" stroke-width="1.65"/>
<line x1="135.11" y1="821.5" x2="135.11" y2="805" stroke="#f0aa14" stroke-width="1.5"/><line x1="132.51" y1="805" x2="137.71" y2="805" stroke="#f0aa14" stroke-width="1.5"/><line x1="135.11" y1="829.9" x2="135.11" y2="845.5" stroke="#f0aa14" stroke-width="1.5"/><line x1="132.51" y1="845.5" x2="137.71" y2="845.5" stroke="#f0aa14" stroke-width="1.5"/>
<line x1="191.47" y1="781.8" x2="191.47" y2="776" stroke="#f0aa14" stroke-width="1.5"/><line x1="188.87" y1="776" x2="194.07" y2="776" stroke="#f0aa14" stroke-width="1.5"/><line x1="191.47" y1="790.2" x2="191.47" y2="795" stroke="#f0aa14" stroke-width="1.5"/><line x1="188.87" y1="795" x2="194.07" y2="795" stroke="#f0aa14" stroke-width="1.5"/>
<line x1="241.56" y1="764.3" x2="241.56" y2="758.3" stroke="#f0aa14" stroke-width="1.5"/><line x1="238.96" y1="758.3" x2="244.16" y2="758.3" stroke="#f0aa14" stroke-width="1.5"/><line x1="241.56" y1="772.7" x2="241.56" y2="776.8" stroke="#f0aa14" stroke-width="1.5"/><line x1="238.96" y1="776.8" x2="244.16" y2="776.8" stroke="#f0aa14" stroke-width="1.5"/>
<line x1="291.66" y1="824.8" x2="291.66" y2="815.9" stroke="#f0aa14" stroke-width="1.5"/><line x1="289.06" y1="815.9" x2="294.26" y2="815.9" stroke="#f0aa14" stroke-width="1.5"/><line x1="291.66" y1="833.2" x2="291.66" y2="842.7" stroke="#f0aa14" stroke-width="1.5"/><line x1="289.06" y1="842.7" x2="294.26" y2="842.7" stroke="#f0aa14" stroke-width="1.5"/>
<line x1="341.76" y1="806.8" x2="341.76" y2="800.7" stroke="#f0aa14" stroke-width="1.5"/><line x1="339.16" y1="800.7" x2="344.36" y2="800.7" stroke="#f0aa14" stroke-width="1.5"/><line x1="341.76" y1="815.2" x2="341.76" y2="822" stroke="#f0aa14" stroke-width="1.5"/><line x1="339.16" y1="822" x2="344.36" y2="822" stroke="#f0aa14" stroke-width="1.5"/>
<line x1="391.85" y1="786.3" x2="391.85" y2="773.8" stroke="#f0aa14" stroke-width="1.5"/><line x1="389.25" y1="773.8" x2="394.45" y2="773.8" stroke="#f0aa14" stroke-width="1.5"/><line x1="391.85" y1="794.7" x2="391.85" y2="808.1" stroke="#f0aa14" stroke-width="1.5"/><line x1="389.25" y1="808.1" x2="394.45" y2="808.1" stroke="#f0aa14" stroke-width="1.5"/>
<line x1="438.82" y1="834.3" x2="438.82" y2="813.8" stroke="#f0aa14" stroke-width="1.5"/><line x1="436.22" y1="813.8" x2="441.42" y2="813.8" stroke="#f0aa14" stroke-width="1.5"/><line x1="438.82" y1="842.7" x2="438.82" y2="867.6" stroke="#f0aa14" stroke-width="1.5"/><line x1="436.22" y1="867.6" x2="441.42" y2="867.6" stroke="#f0aa14" stroke-width="1.5"/>
<line x1="482.65" y1="755.1" x2="482.65" y2="730" stroke="#f0aa14" stroke-width="1.5"/><line x1="480.05" y1="730" x2="485.25" y2="730" stroke="#f0aa14" stroke-width="1.5"/><line x1="482.65" y1="763.5" x2="482.65" y2="792.7" stroke="#f0aa14" stroke-width="1.5"/><line x1="480.05" y1="792.7" x2="485.25" y2="792.7" stroke="#f0aa14" stroke-width="1.5"/>
<line x1="617.28" y1="706.2" x2="617.28" y2="669.8" stroke="#f0aa14" stroke-width="1.5"/><line x1="614.68" y1="669.8" x2="619.88" y2="669.8" stroke="#f0aa14" stroke-width="1.5"/><line x1="617.28" y1="714.6" x2="617.28" y2="762.1" stroke="#f0aa14" stroke-width="1.5"/><line x1="614.68" y1="762.1" x2="619.88" y2="762.1" stroke="#f0aa14" stroke-width="1.5"/>
<path d="M135.11 821.7L139.21 829.7L131.01 829.7Z" fill="none" stroke="#f0aa14" stroke-width="1.5"/>
<path d="M191.47 782L195.57 790L187.37 790Z" fill="none" stroke="#f0aa14" stroke-width="1.5"/>
<path d="M241.56 764.5L245.66 772.5L237.46 772.5Z" fill="none" stroke="#f0aa14" stroke-width="1.5"/>
<path d="M291.66 825L295.76 833L287.56 833Z" fill="none" stroke="#f0aa14" stroke-width="1.5"/>
<path d="M341.76 807L345.86 815L337.66 815Z" fill="none" stroke="#f0aa14" stroke-width="1.5"/>
<path d="M391.85 786.5L395.95 794.5L387.75 794.5Z" fill="none" stroke="#f0aa14" stroke-width="1.5"/>
<path d="M438.82 834.5L442.92 842.5L434.72 842.5Z" fill="none" stroke="#f0aa14" stroke-width="1.5"/>
<path d="M482.65 755.3L486.75 763.3L478.55 763.3Z" fill="none" stroke="#f0aa14" stroke-width="1.5"/>
<path d="M617.28 706.4L621.38 714.4L613.18 714.4Z" fill="none" stroke="#f0aa14" stroke-width="1.5"/>
<polyline points="135.11,819 191.47,774.5 241.56,803 291.66,805.5 341.76,785.6 391.85,790.5 438.82,817 482.65,853 617.28,764" fill="none" stroke="#e81010" stroke-width="1.65" stroke-dasharray="1.6,2.65"/>
<line x1="135.11" y1="817.4" x2="135.11" y2="800" stroke="#e81010" stroke-width="1.5" stroke-dasharray="1.6,2.65"/><line x1="132.51" y1="800" x2="137.71" y2="800" stroke="#e81010" stroke-width="1.5" stroke-dasharray="1.6,2.65"/><line x1="135.11" y1="820.6" x2="135.11" y2="841.6" stroke="#e81010" stroke-width="1.5" stroke-dasharray="1.6,2.65"/><line x1="132.51" y1="841.6" x2="137.71" y2="841.6" stroke="#e81010" stroke-width="1.5" stroke-dasharray="1.6,2.65"/>
<line x1="191.47" y1="772.9" x2="191.47" y2="762.3" stroke="#e81010" stroke-width="1.5" stroke-dasharray="1.6,2.65"/><line x1="188.87" y1="762.3" x2="194.07" y2="762.3" stroke="#e81010" stroke-width="1.5" stroke-dasharray="1.6,2.65"/><line x1="191.47" y1="776.1" x2="191.47" y2="785" stroke="#e81010" stroke-width="1.5" stroke-dasharray="1.6,2.65"/><line x1="188.87" y1="785" x2="194.07" y2="785" stroke="#e81010" stroke-width="1.5" stroke-dasharray="1.6,2.65"/>
<line x1="241.56" y1="801.4" x2="241.56" y2="790" stroke="#e81010" stroke-width="1.5" stroke-dasharray="1.6,2.65"/><line x1="238.96" y1="790" x2="244.16" y2="790" stroke="#e81010" stroke-width="1.5" stroke-dasharray="1.6,2.65"/><line x1="241.56" y1="804.6" x2="241.56" y2="813.9" stroke="#e81010" stroke-width="1.5" stroke-dasharray="1.6,2.65"/><line x1="238.96" y1="813.9" x2="244.16" y2="813.9" stroke="#e81010" stroke-width="1.5" stroke-dasharray="1.6,2.65"/>
<line x1="291.66" y1="803.9" x2="291.66" y2="793" stroke="#e81010" stroke-width="1.5" stroke-dasharray="1.6,2.65"/><line x1="289.06" y1="793" x2="294.26" y2="793" stroke="#e81010" stroke-width="1.5" stroke-dasharray="1.6,2.65"/><line x1="291.66" y1="807.1" x2="291.66" y2="817.3" stroke="#e81010" stroke-width="1.5" stroke-dasharray="1.6,2.65"/><line x1="289.06" y1="817.3" x2="294.26" y2="817.3" stroke="#e81010" stroke-width="1.5" stroke-dasharray="1.6,2.65"/>
<line x1="341.76" y1="784" x2="341.76" y2="769" stroke="#e81010" stroke-width="1.5" stroke-dasharray="1.6,2.65"/><line x1="339.16" y1="769" x2="344.36" y2="769" stroke="#e81010" stroke-width="1.5" stroke-dasharray="1.6,2.65"/><line x1="341.76" y1="787.2" x2="341.76" y2="800" stroke="#e81010" stroke-width="1.5" stroke-dasharray="1.6,2.65"/><line x1="339.16" y1="800" x2="344.36" y2="800" stroke="#e81010" stroke-width="1.5" stroke-dasharray="1.6,2.65"/>
<line x1="391.85" y1="788.9" x2="391.85" y2="772.5" stroke="#e81010" stroke-width="1.5" stroke-dasharray="1.6,2.65"/><line x1="389.25" y1="772.5" x2="394.45" y2="772.5" stroke="#e81010" stroke-width="1.5" stroke-dasharray="1.6,2.65"/><line x1="391.85" y1="792.1" x2="391.85" y2="808.5" stroke="#e81010" stroke-width="1.5" stroke-dasharray="1.6,2.65"/><line x1="389.25" y1="808.5" x2="394.45" y2="808.5" stroke="#e81010" stroke-width="1.5" stroke-dasharray="1.6,2.65"/>
<line x1="438.82" y1="815.4" x2="438.82" y2="793" stroke="#e81010" stroke-width="1.5" stroke-dasharray="1.6,2.65"/><line x1="436.22" y1="793" x2="441.42" y2="793" stroke="#e81010" stroke-width="1.5" stroke-dasharray="1.6,2.65"/><line x1="438.82" y1="818.6" x2="438.82" y2="841.7" stroke="#e81010" stroke-width="1.5" stroke-dasharray="1.6,2.65"/><line x1="436.22" y1="841.7" x2="441.42" y2="841.7" stroke="#e81010" stroke-width="1.5" stroke-dasharray="1.6,2.65"/>
<line x1="482.65" y1="851.4" x2="482.65" y2="814.3" stroke="#e81010" stroke-width="1.5" stroke-dasharray="1.6,2.65"/><line x1="480.05" y1="814.3" x2="485.25" y2="814.3" stroke="#e81010" stroke-width="1.5" stroke-dasharray="1.6,2.65"/><line x1="482.65" y1="854.6" x2="482.65" y2="901.5" stroke="#e81010" stroke-width="1.5" stroke-dasharray="1.6,2.65"/><line x1="480.05" y1="901.5" x2="485.25" y2="901.5" stroke="#e81010" stroke-width="1.5" stroke-dasharray="1.6,2.65"/>
<line x1="617.28" y1="762.4" x2="617.28" y2="715.8" stroke="#e81010" stroke-width="1.5" stroke-dasharray="1.6,2.65"/><line x1="614.68" y1="715.8" x2="619.88" y2="715.8" stroke="#e81010" stroke-width="1.5" stroke-dasharray="1.6,2.65"/><line x1="617.28" y1="765.6" x2="617.28" y2="831" stroke="#e81010" stroke-width="1.5" stroke-dasharray="1.6,2.65"/><line x1="614.68" y1="831" x2="619.88" y2="831" stroke="#e81010" stroke-width="1.5" stroke-dasharray="1.6,2.65"/>
<circle cx="135.11" cy="819" r="1.7" fill="#e81010"/>
<circle cx="191.47" cy="774.5" r="1.7" fill="#e81010"/>
<circle cx="241.56" cy="803" r="1.7" fill="#e81010"/>
<circle cx="291.66" cy="805.5" r="1.7" fill="#e81010"/>
<circle cx="341.76" cy="785.6" r="1.7" fill="#e81010"/>
<circle cx="391.85" cy="790.5" r="1.7" fill="#e81010"/>
<circle cx="438.82" cy="817" r="1.7" fill="#e81010"/>
<circle cx="482.65" cy="853" r="1.7" fill="#e81010"/>
<circle cx="617.28" cy="764" r="1.7" fill="#e81010"/>
<polyline points="135.11,818.2 191.47,772.4 241.56,798 291.66,799.3 341.76,825.1 391.85,776 438.82,824.6 482.65,763.2 617.28,786.3" fill="none" stroke="#828219" stroke-width="1.65"/>
<line x1="135.11" y1="816.6" x2="135.11" y2="799.1" stroke="#828219" stroke-width="1.5"/><line x1="132.51" y1="799.1" x2="137.71" y2="799.1" stroke="#828219" stroke-width="1.5"/><line x1="135.11" y1="819.8" x2="135.11" y2="840.1" stroke="#828219" stroke-width="1.5"/><line x1="132.51" y1="840.1" x2="137.71" y2="840.1" stroke="#828219" stroke-width="1.5"/>
<line x1="191.47" y1="770.8" x2="191.47" y2="761.6" stroke="#828219" stroke-width="1.5"/><line x1="188.87" y1="761.6" x2="194.07" y2="761.6" stroke="#828219" stroke-width="1.5"/><line x1="191.47" y1="774" x2="191.47" y2="783.3" stroke="#828219" stroke-width="1.5"/><line x1="188.87" y1="783.3" x2="194.07" y2="783.3" stroke="#828219" stroke-width="1.5"/>
<line x1="241.56" y1="796.4" x2="241.56" y2="786.6" stroke="#828219" stroke-width="1.5"/><line x1="238.96" y1="786.6" x2="244.16" y2="786.6" stroke="#828219" stroke-width="1.5"/><line x1="241.56" y1="799.6" x2="241.56" y2="810.5" stroke="#828219" stroke-width="1.5"/><line x1="238.96" y1="810.5" x2="244.16" y2="810.5" stroke="#828219" stroke-width="1.5"/>
<line x1="291.66" y1="797.7" x2="291.66" y2="787" stroke="#828219" stroke-width="1.5"/><line x1="289.06" y1="787" x2="294.26" y2="787" stroke="#828219" stroke-width="1.5"/><line x1="291.66" y1="800.9" x2="291.66" y2="813" stroke="#828219" stroke-width="1.5"/><line x1="289.06" y1="813" x2="294.26" y2="813" stroke="#828219" stroke-width="1.5"/>
<line x1="341.76" y1="823.5" x2="341.76" y2="808.5" stroke="#828219" stroke-width="1.5"/><line x1="339.16" y1="808.5" x2="344.36" y2="808.5" stroke="#828219" stroke-width="1.5"/><line x1="341.76" y1="826.7" x2="341.76" y2="842.7" stroke="#828219" stroke-width="1.5"/><line x1="339.16" y1="842.7" x2="344.36" y2="842.7" stroke="#828219" stroke-width="1.5"/>
<line x1="391.85" y1="774.4" x2="391.85" y2="758" stroke="#828219" stroke-width="1.5"/><line x1="389.25" y1="758" x2="394.45" y2="758" stroke="#828219" stroke-width="1.5"/><line x1="391.85" y1="777.6" x2="391.85" y2="794" stroke="#828219" stroke-width="1.5"/><line x1="389.25" y1="794" x2="394.45" y2="794" stroke="#828219" stroke-width="1.5"/>
<line x1="438.82" y1="823" x2="438.82" y2="799" stroke="#828219" stroke-width="1.5"/><line x1="436.22" y1="799" x2="441.42" y2="799" stroke="#828219" stroke-width="1.5"/><line x1="438.82" y1="826.2" x2="438.82" y2="855" stroke="#828219" stroke-width="1.5"/><line x1="436.22" y1="855" x2="441.42" y2="855" stroke="#828219" stroke-width="1.5"/>
<line x1="482.65" y1="761.6" x2="482.65" y2="732" stroke="#828219" stroke-width="1.5"/><line x1="480.05" y1="732" x2="485.25" y2="732" stroke="#828219" stroke-width="1.5"/><line x1="482.65" y1="764.8" x2="482.65" y2="798.7" stroke="#828219" stroke-width="1.5"/><line x1="480.05" y1="798.7" x2="485.25" y2="798.7" stroke="#828219" stroke-width="1.5"/>
<line x1="617.28" y1="784.7" x2="617.28" y2="735.9" stroke="#828219" stroke-width="1.5"/><line x1="614.68" y1="735.9" x2="619.88" y2="735.9" stroke="#828219" stroke-width="1.5"/><line x1="617.28" y1="787.9" x2="617.28" y2="857" stroke="#828219" stroke-width="1.5"/><line x1="614.68" y1="857" x2="619.88" y2="857" stroke="#828219" stroke-width="1.5"/>
<circle cx="135.11" cy="818.2" r="1.7" fill="#828219"/>
<circle cx="191.47" cy="772.4" r="1.7" fill="#828219"/>
<circle cx="241.56" cy="798" r="1.7" fill="#828219"/>
<circle cx="291.66" cy="799.3" r="1.7" fill="#828219"/>
<circle cx="341.76" cy="825.1" r="1.7" fill="#828219"/>
<circle cx="391.85" cy="776" r="1.7" fill="#828219"/>
<circle cx="438.82" cy="824.6" r="1.7" fill="#828219"/>
<circle cx="482.65" cy="763.2" r="1.7" fill="#828219"/>
<circle cx="617.28" cy="786.3" r="1.7" fill="#828219"/>
</g>
<rect x="91" y="35" width="651" height="921" fill="none" stroke="#000" stroke-width="2"/>
<line x1="91" y1="635" x2="742" y2="635" stroke="#000" stroke-width="2"/>
<path d="M103.8 35v16M103.8 635v-16M103.8 635v10M103.8 956v-10M135.11 35v4M135.11 635v-4M135.11 635v3M135.11 956v-3M166.42 35v8M166.42 635v-8M166.42 635v5M166.42 956v-5M197.73 35v4M197.73 635v-4M197.73 635v3M197.73 956v-3M229.04 35v8M229.04 635v-8M229.04 635v5M229.04 956v-5M260.35 35v4M260.35 635v-4M260.35 635v3M260.35 956v-3M291.66 35v8M291.66 635v-8M291.66 635v5M291.66 956v-5M322.97 35v4M322.97 635v-4M322.97 635v3M322.97 956v-3M354.28 35v8M354.28 635v-8M354.28 635v5M354.28 956v-5M385.59 35v4M385.59 635v-4M385.59 635v3M385.59 956v-3M416.9 35v16M416.9 635v-16M416.9 635v10M416.9 956v-10M448.21 35v4M448.21 635v-4M448.21 635v3M448.21 956v-3M479.52 35v8M479.52 635v-8M479.52 635v5M479.52 956v-5M510.83 35v4M510.83 635v-4M510.83 635v3M510.83 956v-3M542.14 35v8M542.14 635v-8M542.14 635v5M542.14 956v-5M573.45 35v4M573.45 635v-4M573.45 635v3M573.45 956v-3M604.76 35v8M604.76 635v-8M604.76 635v5M604.76 956v-5M636.07 35v4M636.07 635v-4M636.07 635v3M636.07 956v-3M667.38 35v8M667.38 635v-8M667.38 635v5M667.38 956v-5M698.69 35v4M698.69 635v-4M698.69 635v3M698.69 956v-3M730 35v16M730 635v-16M730 635v10M730 956v-10M91 624.33h11M742 624.33h-11M91 614.55h11M742 614.55h-11M91 606.07h11M742 606.07h-11M91 598.59h11M742 598.59h-11M91 591.9h22M742 591.9h-22M91 547.89h11M742 547.89h-11M91 522.14h11M742 522.14h-11M91 503.88h11M742 503.88h-11M91 489.71h11M742 489.71h-11M91 478.13h11M742 478.13h-11M91 468.35h11M742 468.35h-11M91 459.87h11M742 459.87h-11M91 452.39h11M742 452.39h-11M91 445.7h22M742 445.7h-22M91 401.69h11M742 401.69h-11M91 375.94h11M742 375.94h-11M91 357.68h11M742 357.68h-11M91 343.51h11M742 343.51h-11M91 331.93h11M742 331.93h-11M91 322.15h11M742 322.15h-11M91 313.67h11M742 313.67h-11M91 306.19h11M742 306.19h-11M91 299.5h22M742 299.5h-22M91 255.49h11M742 255.49h-11M91 229.74h11M742 229.74h-11M91 211.48h11M742 211.48h-11M91 197.31h11M742 197.31h-11M91 185.73h11M742 185.73h-11M91 175.95h11M742 175.95h-11M91 167.47h11M742 167.47h-11M91 159.99h11M742 159.99h-11M91 153.3h22M742 153.3h-22M91 109.29h11M742 109.29h-11M91 83.54h11M742 83.54h-11M91 65.28h11M742 65.28h-11M91 51.11h11M742 51.11h-11M91 39.53h11M742 39.53h-11M91 916.82h14M742 916.82h-14M91 884.91h10M742 884.91h-10M91 857.93h10M742 857.93h-10M91 834.55h10M742 834.55h-10M91 813.94h10M742 813.94h-10M91 795.5h14M742 795.5h-14M91 778.82h10M742 778.82h-10M91 763.59h10M742 763.59h-10M91 749.58h10M742 749.58h-10M91 736.61h10M742 736.61h-10M91 724.54h14M742 724.54h-14M91 713.24h10M742 713.24h-10M91 702.63h10M742 702.63h-10M91 692.63h10M742 692.63h-10M91 683.16h10M742 683.16h-10M91 674.18h14M742 674.18h-14M91 665.65h10M742 665.65h-10M91 657.5h10M742 657.5h-10M91 649.72h10M742 649.72h-10M91 642.27h10M742 642.27h-10" fill="none" stroke="#000" stroke-width="1.6"/>
<path d="M0.373,0H0.273V-0.495H0.109V-0.565C0.2,-0.57 0.262,-0.605 0.283,-0.709H0.373Z" transform="translate(102.3,29.2) scale(24.5)" fill="#000"/>
<text x="115.8" y="29.2" font-size="24.5">3000 GeV pp</text>
<text x="730.5" y="29.3" font-size="24" text-anchor="end">Jets</text>
<text x="219.6" y="86.8" font-size="25.2" textLength="155" lengthAdjust="spacingAndGlyphs">Groomed LHA</text>
<path d="M378.5,73.2 C378.3,70.6 380.2,68.9 382.0,70.0 C383.4,71.0 384.4,74.6 385.5,78.3 C386.6,82.0 387.4,85.6 389.0,85.6 C389.6,85.6 389.9,85.1 390.1,84.5" fill="none" stroke="#000" stroke-width="1.9"/>
<path d="M384.2,75.6 L378.9,86.4" fill="none" stroke="#000" stroke-width="2.3"/>
<path d="M0.373,0H0.273V-0.495H0.109V-0.565C0.2,-0.57 0.262,-0.605 0.283,-0.709H0.373Z" transform="translate(390.3,74.9) scale(16.2)" fill="#000"/>
<text x="391.1" y="95.6" font-size="17.4" textLength="21.6" lengthAdjust="spacingAndGlyphs">0.5</text>
<text x="417" y="86.9" font-size="18.3" textLength="199" lengthAdjust="spacingAndGlyphs">(CMS jet substructure)</text>
<text id="t_rivet" transform="translate(760.2,255) rotate(-90)" font-size="20" fill="#808080" textLength="219.5" lengthAdjust="spacingAndGlyphs">Rivet 4.<tspan class="h1">1</tspan>.0, ≥ <tspan class="h1">1</tspan>00k events</text>
<path d="M0.373,0H0.273V-0.495H0.109V-0.565C0.2,-0.57 0.262,-0.605 0.283,-0.709H0.373Z" transform="translate(760.2,255) rotate(-90) translate(64.40,0.00) scale(18.994,20.000)" fill="#808080"/><path d="M0.373,0H0.273V-0.495H0.109V-0.565C0.2,-0.57 0.262,-0.605 0.283,-0.709H0.373Z" transform="translate(760.2,255) rotate(-90) translate(117.07,0.00) scale(18.994,20.000)" fill="#808080"/>
<text id="t_mcp" transform="translate(762.7,629.5) rotate(-90)" font-size="20" fill="#808080" textLength="286" lengthAdjust="spacingAndGlyphs">mcplots.cern.ch [arXiv:<tspan class="h1">1</tspan>306.3436]</text>
<path d="M0.373,0H0.273V-0.495H0.109V-0.565C0.2,-0.57 0.262,-0.605 0.283,-0.709H0.373Z" transform="translate(762.7,629.5) rotate(-90) translate(191.32,0.00) scale(18.915,20.000)" fill="#808080"/>
<text id="t_cms" x="334" y="604.2" font-size="16.5" fill="#999" textLength="164" lengthAdjust="spacingAndGlyphs">(CMS_202<tspan class="h1">1</tspan>_I<tspan class="h1">1</tspan>920<tspan class="h1">1</tspan>87)</text>
<path d="M0.373,0H0.273V-0.495H0.109V-0.565C0.2,-0.57 0.262,-0.605 0.283,-0.709H0.373Z" transform="translate(409.38,604.20) scale(15.770,16.500)" fill="#999"/><path d="M0.373,0H0.273V-0.495H0.109V-0.565C0.2,-0.57 0.262,-0.605 0.283,-0.709H0.373Z" transform="translate(431.32,604.20) scale(15.770,16.500)" fill="#999"/><path d="M0.373,0H0.273V-0.495H0.109V-0.565C0.2,-0.57 0.262,-0.605 0.283,-0.709H0.373Z" transform="translate(466.42,604.20) scale(15.770,16.500)" fill="#999"/>
<path d="M0.373,0H0.273V-0.495H0.109V-0.565C0.2,-0.57 0.262,-0.605 0.283,-0.709H0.373Z" transform="translate(54.7,161.9) scale(22)" fill="#000"/>
<text x="66.9" y="161.9" font-size="22">0</text>
<path d="M0.373,0H0.273V-0.495H0.109V-0.565C0.2,-0.57 0.262,-0.605 0.283,-0.709H0.373Z" transform="translate(70.5,307.8) scale(22)" fill="#000"/>
<path d="M0.373,0H0.273V-0.495H0.109V-0.565C0.2,-0.57 0.262,-0.605 0.283,-0.709H0.373Z" transform="translate(40.3,456) scale(22)" fill="#000"/>
<text x="52.5" y="456" font-size="22">0</text>
<text x="64.1" y="447.7" font-size="14.4" textLength="8.6" lengthAdjust="spacingAndGlyphs">−</text>
<path d="M0.373,0H0.273V-0.495H0.109V-0.565C0.2,-0.57 0.262,-0.605 0.283,-0.709H0.373Z" transform="translate(73.7,446.9) scale(14.4)" fill="#000"/>
<path d="M0.373,0H0.273V-0.495H0.109V-0.565C0.2,-0.57 0.262,-0.605 0.283,-0.709H0.373Z" transform="translate(37.6,603.1) scale(22)" fill="#000"/>
<text x="49.8" y="603.1" font-size="22">0</text>
<text x="61.4" y="593.4" font-size="14.4" textLength="8.4" lengthAdjust="spacingAndGlyphs">−</text>
<text x="70.4" y="593" font-size="15.2">2</text>
<text x="77" y="683" font-size="24" text-anchor="end">2</text>
<path d="M0.373,0H0.273V-0.495H0.109V-0.565C0.2,-0.57 0.262,-0.605 0.283,-0.709H0.373Z" transform="translate(65.4,805) scale(24)" fill="#000"/>
<text x="77.7" y="925.8" font-size="24" text-anchor="end">0.5</text>
<text x="748" y="683" font-size="24">2</text>
<path d="M0.373,0H0.273V-0.495H0.109V-0.565C0.2,-0.57 0.262,-0.605 0.283,-0.709H0.373Z" transform="translate(748.2,805) scale(24)" fill="#000"/>
<text x="748" y="926" font-size="24">0.5</text>
<text transform="translate(36.6,793.8) rotate(-90)" font-size="19.5" text-anchor="middle" textLength="105" lengthAdjust="spacingAndGlyphs">Ratio to CMS</text>
<text x="103.8" y="978.5" font-size="24" text-anchor="middle">0</text>
<text x="417" y="978.5" font-size="24" text-anchor="middle">0.5</text>
<path d="M0.373,0H0.273V-0.495H0.109V-0.565C0.2,-0.57 0.262,-0.605 0.283,-0.709H0.373Z" transform="translate(725.4,978.3) scale(24)" fill="#000"/>
<rect x="148" y="391" width="10.4" height="10.4" fill="#000"/>
<text x="187" y="402.3" font-size="19">CMS</text>
<line x1="129" y1="422.2" x2="177" y2="422.2" stroke="#b91e4a" stroke-width="1.5" stroke-dasharray="4.3,4"/>
<circle cx="153.2" cy="422.2" r="4.6" fill="none" stroke="#b91e4a" stroke-width="1.5"/>
<text id="t_leg0" x="187" y="427.5" font-size="19">Pythia 6.428 345</text>

<line x1="129" y1="447.9" x2="177" y2="447.9" stroke="#b08232" stroke-width="1.5" stroke-dasharray="1.6,2.5"/>
<rect x="148.4" y="443.1" width="9.6" height="9.6" fill="none" stroke="#b08232" stroke-width="1.5"/>
<text id="t_leg1" x="187" y="453.4" font-size="19">Pythia 6.428 346</text>

<line x1="129" y1="474" x2="177" y2="474" stroke="#a3102f" stroke-width="1.5"/>
<path d="M153.2 468.4L158.9 479.6L147.5 479.6Z" fill="none" stroke="#a3102f" stroke-width="1.6"/>
<text id="t_leg2" x="187" y="479.5" font-size="19">Pythia 6.428 370</text>

<line x1="129" y1="500" x2="177" y2="500" stroke="#f0aa14" stroke-width="1.5"/>
<path d="M153.2 496L157.3 504L149.1 504Z" fill="none" stroke="#f0aa14" stroke-width="1.5"/>
<text id="t_leg3" x="187" y="505.4" font-size="19">Pythia 6.428 ambt<tspan class="h1">1</tspan></text>
<path d="M0.373,0H0.273V-0.495H0.109V-0.565C0.2,-0.57 0.262,-0.605 0.283,-0.709H0.373Z" transform="translate(340.16,505.40) scale(19.000,19.000)" fill="#000"/>
<line x1="129" y1="526" x2="177" y2="526" stroke="#e81010" stroke-width="1.5" stroke-dasharray="1.6,2.65"/>
<circle cx="153.2" cy="526" r="1.7" fill="#e81010"/>
<text id="t_leg4" x="187" y="531.5" font-size="19">Pythia 6.428 z<tspan class="h1">1</tspan></text>
<path d="M0.373,0H0.273V-0.495H0.109V-0.565C0.2,-0.57 0.262,-0.605 0.283,-0.709H0.373Z" transform="translate(307.42,531.50) scale(19.000,19.000)" fill="#000"/>
<line x1="129" y1="552.1" x2="177" y2="552.1" stroke="#828219" stroke-width="1.5"/>
<circle cx="153.2" cy="552.1" r="1.7" fill="#828219"/>
<text id="t_leg5" x="187" y="558.4" font-size="19">Pythia 6.428 z2</text>

</svg></body></html>
